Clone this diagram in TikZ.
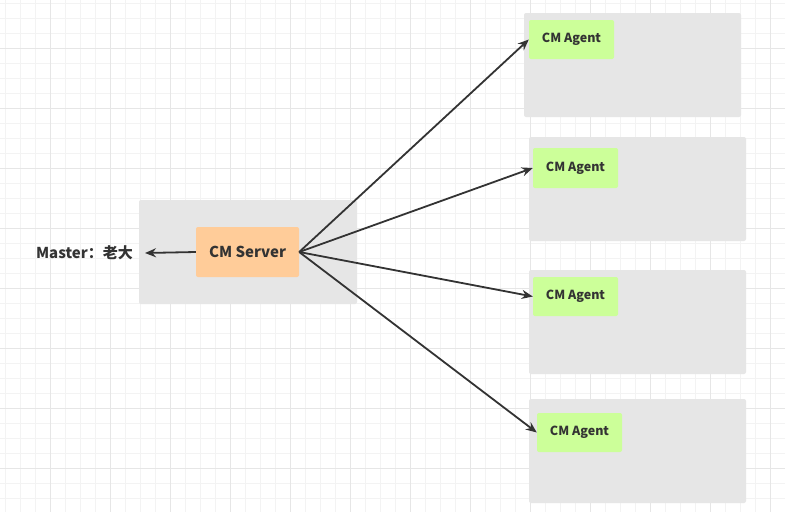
\documentclass[tikz,border=0pt]{standalone}
\usepackage{fontspec}
\setmainfont{Noto Sans CJK SC}
\usetikzlibrary{arrows.meta}
\definecolor{gridminor}{HTML}{F3F3F3}
\definecolor{gridmajor}{HTML}{E6E6E6}
\definecolor{boxgray}{HTML}{E6E6E6}
\definecolor{serverfill}{HTML}{FFCC99}
\definecolor{agentfill}{HTML}{CCFF99}
\definecolor{ink}{HTML}{333333}
\tikzset{
  container/.style={fill=boxgray, draw=none, rounded corners=2pt},
  agentbox/.style={fill=agentfill, draw=none, rounded corners=2pt, text=ink, font=\bfseries\fontsize{12.5}{14}\selectfont, inner sep=0pt},
  serverbox/.style={fill=serverfill, draw=none, rounded corners=2pt, text=ink, font=\bfseries\fontsize{15}{17}\selectfont, inner sep=0pt},
  conn/.style={draw=ink, line width=1.8pt, -{Stealth[length=11pt,width=9pt]}},
}
\begin{document}
\begin{tikzpicture}[x=1pt,y=-1pt]
\useasboundingbox (0,0) rectangle (785,512);
\fill[white] (0,0) rectangle (785,512);
% grid
\foreach \x in {5,20,...,785} \draw[gridminor, line width=0.8pt] (\x,0) -- (\x,512);
\foreach \y in {3,18,...,512} \draw[gridminor, line width=0.8pt] (0,\y) -- (785,\y);
\foreach \x in {50,110,...,785} \draw[gridmajor, line width=0.8pt] (\x,0) -- (\x,512);
\foreach \y in {48,108,...,512} \draw[gridmajor, line width=0.8pt] (0,\y) -- (785,\y);
% containers
\fill[container] (139,200) rectangle (357,304);
\fill[container] (524,13) rectangle (741,117);
\fill[container] (529,137) rectangle (746,241);
\fill[container] (529,270) rectangle (746,374);
\fill[container] (529,399) rectangle (746,503);
% nodes
\node[serverbox, minimum width=103pt, minimum height=50pt] (server) at (247.5,252) {CM Server};
\node[agentbox, minimum width=85pt, minimum height=39pt] (a1) at (571.5,39.5) {CM Agent};
\node[agentbox, minimum width=85pt, minimum height=40pt] (a2) at (575.5,168) {CM Agent};
\node[agentbox, minimum width=85pt, minimum height=39pt] (a3) at (575.5,296.5) {CM Agent};
\node[agentbox, minimum width=85pt, minimum height=39pt] (a4) at (579.5,432.5) {CM Agent};
\node[text=ink, font=\bfseries\fontsize{15}{17}\selectfont, inner sep=0pt, anchor=east] (master) at (133,253) {Master：老大};
\coordinate (mtip) at (145,253);
% connectors
\draw[conn] (server.west) -- (mtip);
\draw[conn] (server.east) -- (a1.west);
\draw[conn] (server.east) -- (a2.west);
\draw[conn] (server.east) -- (a3.west);
\draw[conn] (server.east) -- (a4.west);
\end{tikzpicture}
\end{document}
